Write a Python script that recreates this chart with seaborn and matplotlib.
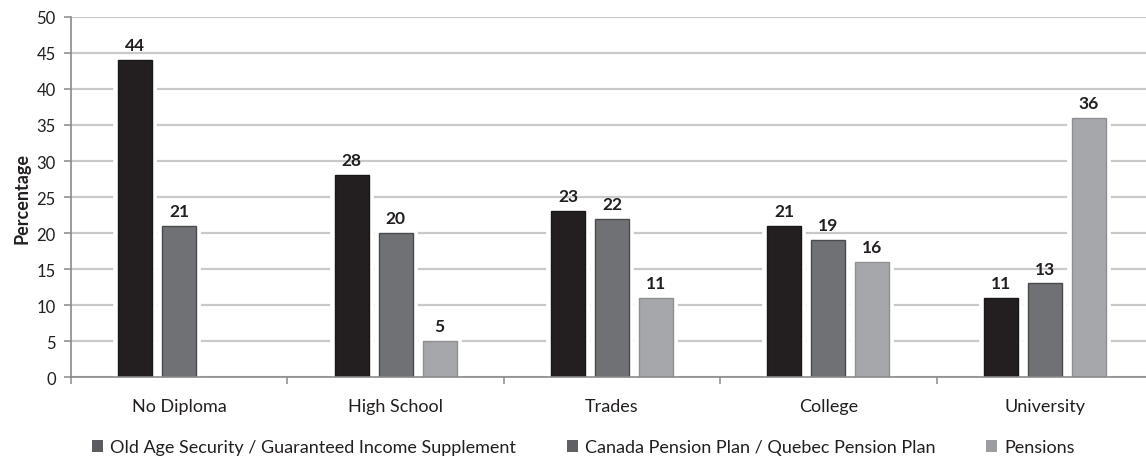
import numpy as np
import pandas as pd
import matplotlib
matplotlib.use("Agg")
import matplotlib.pyplot as plt
import matplotlib.patheffects as pe
from matplotlib.patches import Patch
import seaborn as sns

categories = ["No Diploma", "High School", "Trades", "College", "University"]
series_names = [
    "Old Age Security / Guaranteed Income Supplement",
    "Canada Pension Plan / Quebec Pension Plan",
    "Pensions",
]
oas_gis = [44, 28, 23, 21, 11]
cpp_qpp = [21, 20, 22, 19, 13]
pensions = [np.nan, 5, 11, 16, 36]

fill_colors = ["#231f20", "#707174", "#a6a7aa"]
edge_colors = ["#1a1718", "#4a4b4e", "#8e8f92"]
legend_colors = ["#5b5c5f", "#5f6063", "#9c9da0"]

df = pd.DataFrame({
    "category": categories * 3,
    "series": np.repeat(series_names, len(categories)),
    "value": oas_gis + cpp_qpp + pensions,
})

sns.set_theme(style="white")
plt.rcParams["font.family"] = ["Lato", "DejaVu Sans"]

fig = plt.figure(figsize=(11.46, 4.6), dpi=100)
ax = fig.add_axes([0.062, 0.178, 0.944, 0.783])

sns.barplot(
    data=df, x="category", y="value", hue="series",
    order=categories, hue_order=series_names,
    palette=fill_colors, width=0.61, gap=0.23,
    errorbar=None, legend=False, ax=ax, zorder=3,
)

# colour each series and give the bars a white halo over the gridlines
for container, fc, ec in zip(ax.containers, fill_colors, edge_colors):
    for bar in container:
        bar.set_facecolor(fc)
        bar.set_edgecolor(ec)
        bar.set_linewidth(1.0)
        bar.set_path_effects([pe.Stroke(linewidth=7, foreground="white"), pe.Normal()])
    labels = ["" if np.isnan(v) else f"{v:.0f}" for v in container.datavalues]
    ax.bar_label(container, labels=labels, padding=5, fontsize=12.5,
                 fontweight="bold", color="#231f20")

ax.set_ylim(0, 50)
ax.set_yticks(np.arange(0, 51, 5))
ax.set_xlim(-0.5, len(categories) - 0.5)
ax.yaxis.grid(True, color="#c9c9c9", linewidth=1.6, zorder=0)
ax.set_axisbelow(True)

for side in ("top", "right"):
    ax.spines[side].set_visible(False)
for side in ("left", "bottom"):
    ax.spines[side].set_color("#8a8a8a")
    ax.spines[side].set_linewidth(1.2)
    ax.spines[side].set_zorder(5)

ax.tick_params(axis="y", which="major", left=True, length=5, width=1.1,
               color="#8a8a8a", labelsize=12, labelcolor="#231f20", pad=6)
ax.set_xticks(range(len(categories)))
ax.set_xticklabels(categories, fontsize=13, color="#231f20")
ax.tick_params(axis="x", which="major", length=0, pad=15)
ax.set_xticks(np.arange(-0.5, len(categories)), minor=True)
ax.tick_params(axis="x", which="minor", bottom=True, length=5, width=1.1,
               color="#8a8a8a")

ax.set_xlabel("")
ax.set_ylabel("Percentage", fontsize=13, fontweight="bold", color="#231f20",
              labelpad=4)

handles = [Patch(facecolor=c, edgecolor="none") for c in legend_colors]
fig.legend(handles, series_names, loc="center", bbox_to_anchor=(0.509, 0.025),
           ncol=3, frameon=False, fontsize=13, handlelength=0.6,
           handleheight=0.6, handletextpad=0.4, columnspacing=2.8,
           labelcolor="#231f20")

fig.savefig("out.png", dpi=100, facecolor="white")
